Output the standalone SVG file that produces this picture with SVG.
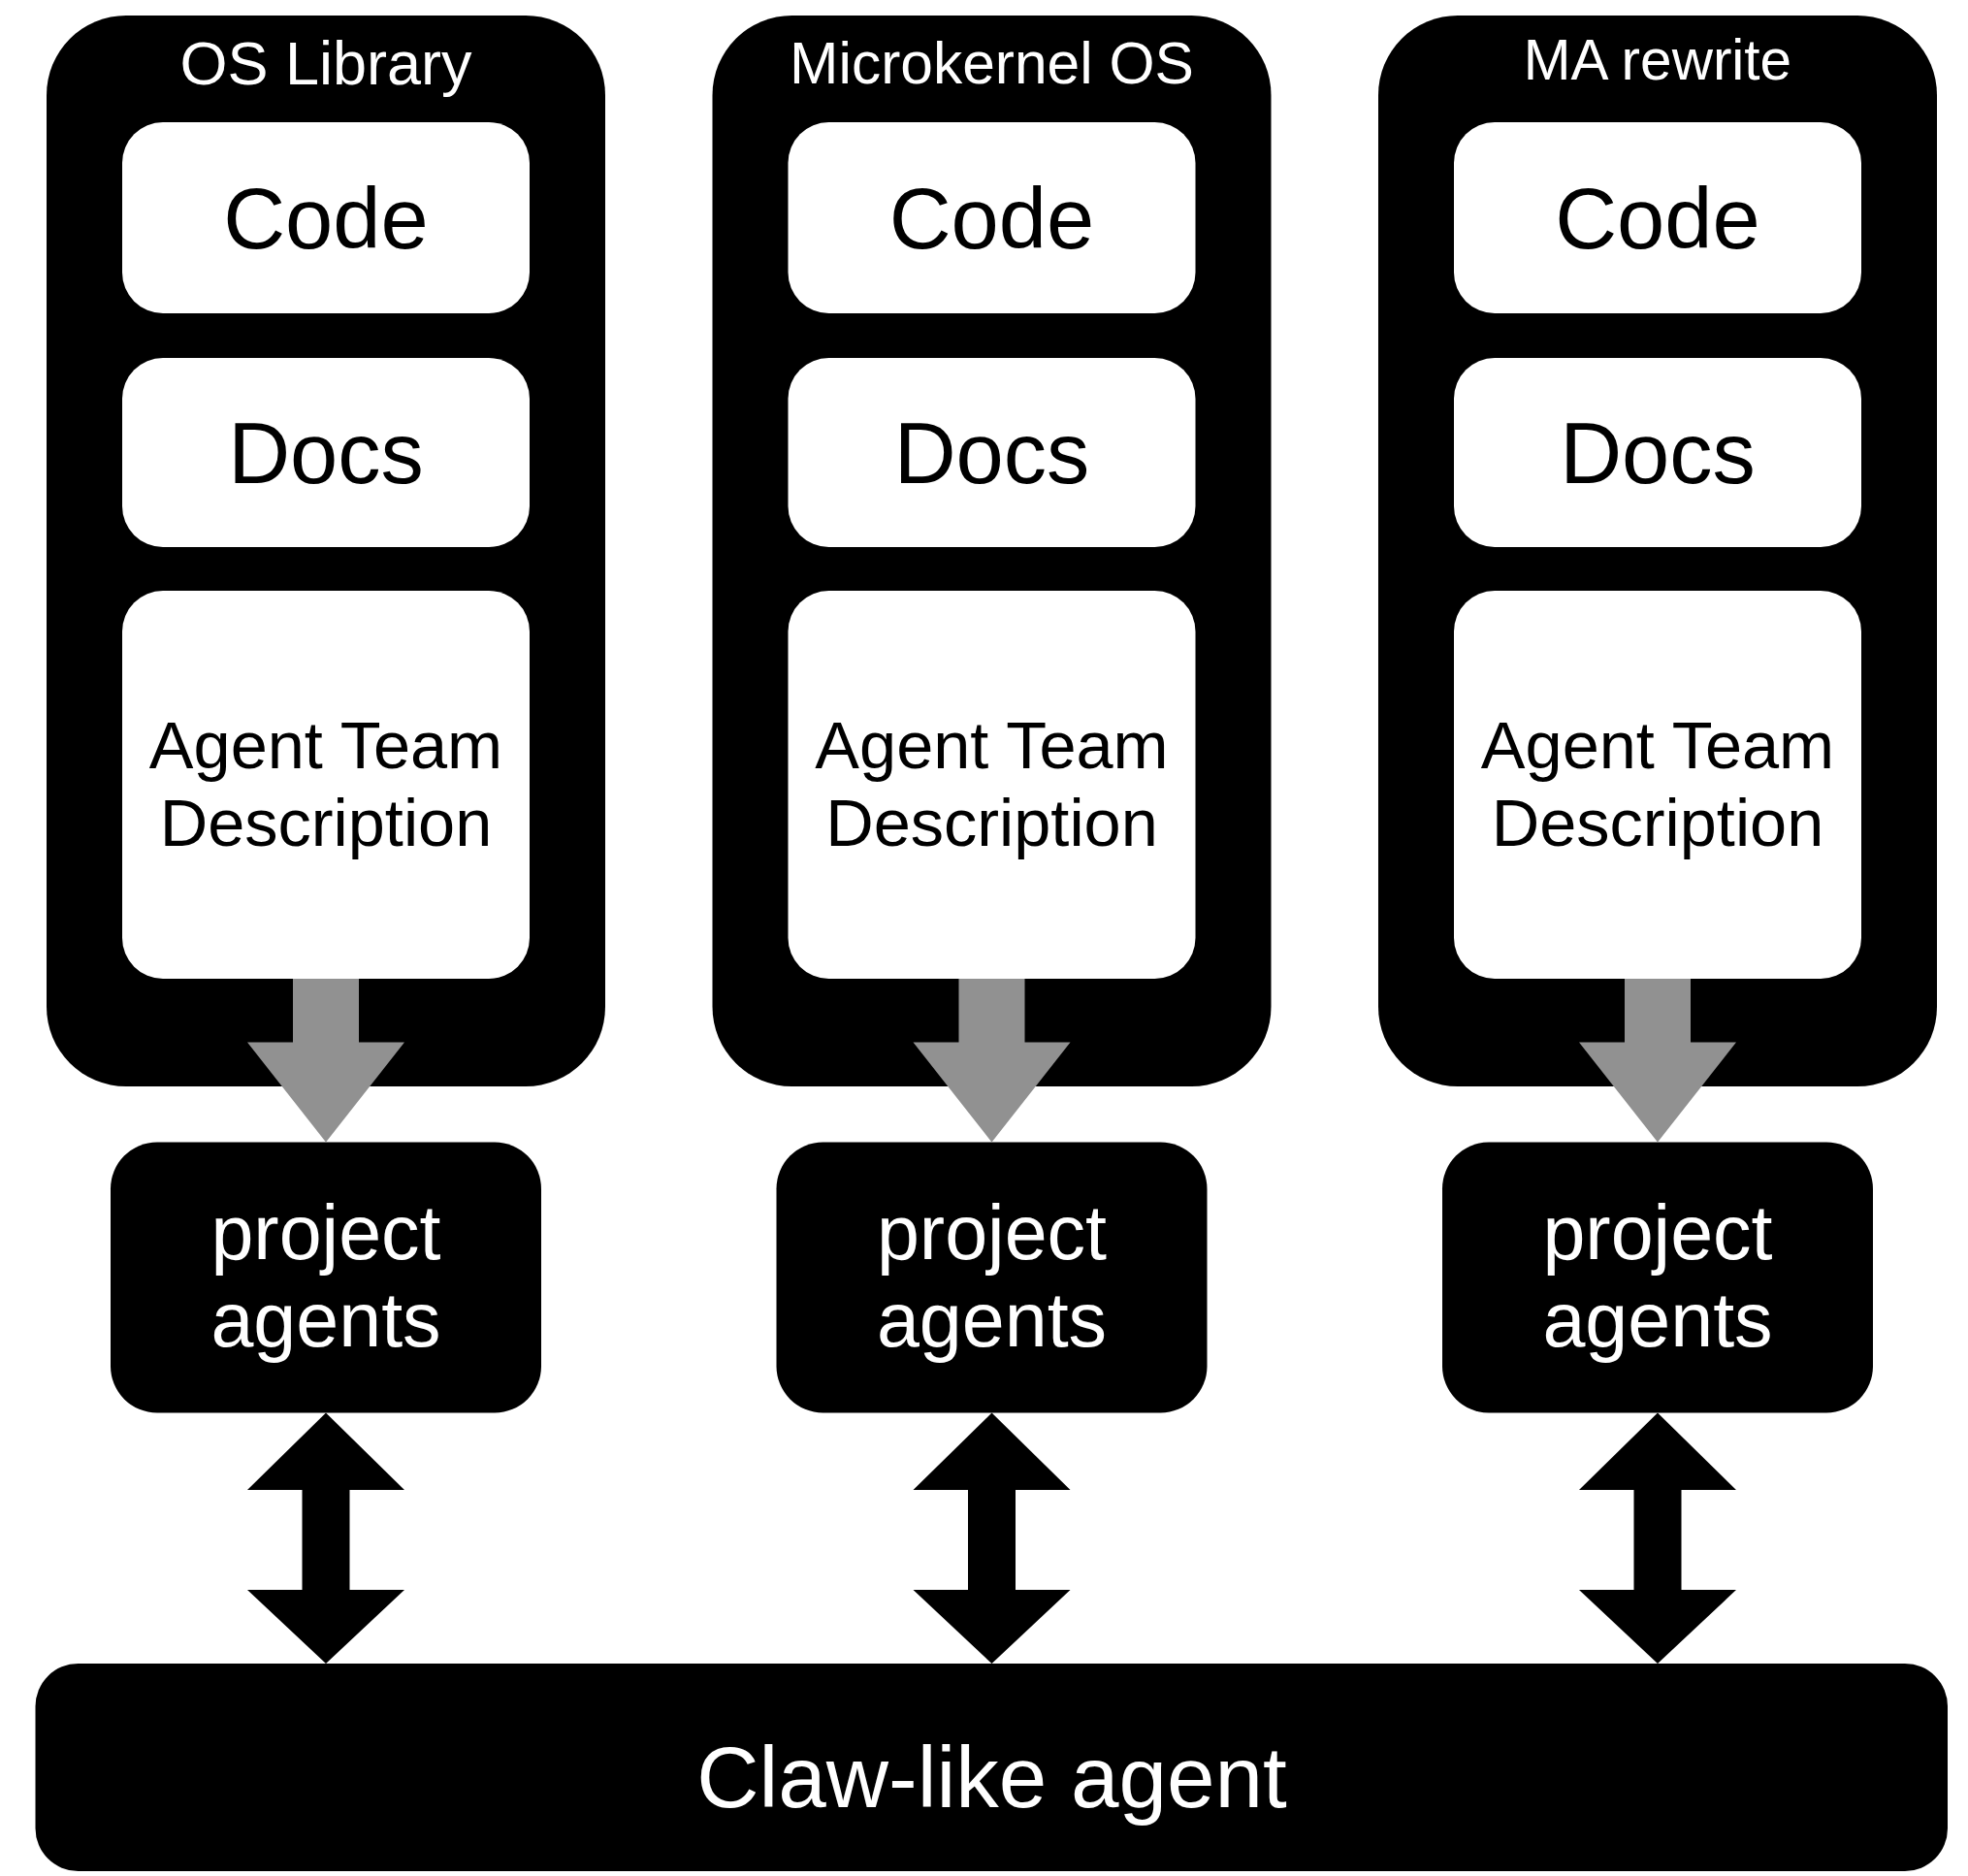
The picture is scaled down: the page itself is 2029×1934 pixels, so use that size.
<svg xmlns="http://www.w3.org/2000/svg" width="2029" height="1934" viewBox="0 0 2029 1934">
  <defs>
    <style>
      text { font-family: "Liberation Sans", Arial, Helvetica, sans-serif; text-anchor: middle; }
      .container { fill: #000; }
      .card { fill: #fff; }
      .dark { fill: #000; }
      .title { fill: #fff; }
      .label { fill: #000; font-size: 88.5px; }
      .team { fill: #000; font-size: 68.5px; }
      .agents { fill: #fff; font-size: 79px; }
      .claw { fill: #fff; font-size: 89px; }
      .flow { fill: #919191; }
      .link { fill: #000; }
    </style>
  </defs>
  <rect width="2029" height="1934" fill="#fff"/>

  <!-- Column 1: OS Library -->
  <g id="os-library">
    <rect class="container" x="48" y="16" width="576" height="1104" rx="82" ry="82"/>
    <text class="title" x="336" y="87" font-size="63">OS Library</text>
  </g>
  <g id="os-library-code">
    <rect class="card" x="126" y="126" width="420" height="197" rx="42" ry="42"/>
    <text class="label" x="336" y="256">Code</text>
  </g>
  <g id="os-library-docs">
    <rect class="card" x="126" y="369" width="420" height="195" rx="42" ry="42"/>
    <text class="label" x="336" y="498">Docs</text>
  </g>
  <g id="os-library-team">
    <rect class="card" x="126" y="609" width="420" height="400" rx="42" ry="42"/>
    <text class="team" x="336" y="792">Agent Team</text>
    <text class="team" x="336" y="872">Description</text>
  </g>
  <g id="os-library-agents">
    <rect class="dark" x="114" y="1177.5" width="444" height="279" rx="48" ry="48"/>
    <text class="agents" x="336" y="1298">project</text>
    <text class="agents" x="336" y="1388">agents</text>
  </g>

  <!-- Column 2: Microkernel OS -->
  <g id="microkernel-os">
    <rect class="container" x="734.5" y="16" width="576" height="1104" rx="82" ry="82"/>
    <text class="title" x="1022.5" y="86" font-size="60.5">Microkernel OS</text>
  </g>
  <g id="microkernel-os-code">
    <rect class="card" x="812.5" y="126" width="420" height="197" rx="42" ry="42"/>
    <text class="label" x="1022.5" y="256">Code</text>
  </g>
  <g id="microkernel-os-docs">
    <rect class="card" x="812.5" y="369" width="420" height="195" rx="42" ry="42"/>
    <text class="label" x="1022.5" y="498">Docs</text>
  </g>
  <g id="microkernel-os-team">
    <rect class="card" x="812.5" y="609" width="420" height="400" rx="42" ry="42"/>
    <text class="team" x="1022.5" y="792">Agent Team</text>
    <text class="team" x="1022.5" y="872">Description</text>
  </g>
  <g id="microkernel-os-agents">
    <rect class="dark" x="800.5" y="1177.5" width="444" height="279" rx="48" ry="48"/>
    <text class="agents" x="1022.5" y="1298">project</text>
    <text class="agents" x="1022.5" y="1388">agents</text>
  </g>

  <!-- Column 3: MA rewrite -->
  <g id="ma-rewrite">
    <rect class="container" x="1421" y="16" width="576" height="1104" rx="82" ry="82"/>
    <text class="title" x="1709" y="81.5" font-size="58.5">MA rewrite</text>
  </g>
  <g id="ma-rewrite-code">
    <rect class="card" x="1499" y="126" width="420" height="197" rx="42" ry="42"/>
    <text class="label" x="1709" y="256">Code</text>
  </g>
  <g id="ma-rewrite-docs">
    <rect class="card" x="1499" y="369" width="420" height="195" rx="42" ry="42"/>
    <text class="label" x="1709" y="498">Docs</text>
  </g>
  <g id="ma-rewrite-team">
    <rect class="card" x="1499" y="609" width="420" height="400" rx="42" ry="42"/>
    <text class="team" x="1709" y="792">Agent Team</text>
    <text class="team" x="1709" y="872">Description</text>
  </g>
  <g id="ma-rewrite-agents">
    <rect class="dark" x="1487" y="1177.5" width="444" height="279" rx="48" ry="48"/>
    <text class="agents" x="1709" y="1298">project</text>
    <text class="agents" x="1709" y="1388">agents</text>
  </g>

  <!-- Bottom: Claw-like agent -->
  <g id="claw-like-agent">
    <rect class="dark" x="36.5" y="1715" width="1971.5" height="214" rx="44" ry="44"/>
    <text class="claw" x="1022.5" y="1863">Claw-like agent</text>
  </g>

  <!-- Connectors -->
  <g id="connectors">
    <polygon class="flow" points="302,1009 370,1009 370,1074.5 417,1074.5 336,1177.5 255,1074.5 302,1074.5"/>
    <polygon class="flow" points="988.5,1009 1056.5,1009 1056.5,1074.5 1103.5,1074.5 1022.5,1177.5 941.5,1074.5 988.5,1074.5"/>
    <polygon class="flow" points="1675,1009 1743,1009 1743,1074.5 1790,1074.5 1709,1177.5 1628,1074.5 1675,1074.5"/>
    <polygon class="link" points="336,1456.5 417,1536 360.5,1536 360.5,1639 417,1639 336,1715 255,1639 311.5,1639 311.5,1536 255,1536"/>
    <polygon class="link" points="1022.5,1456.5 1103.5,1536 1047,1536 1047,1639 1103.5,1639 1022.5,1715 941.5,1639 998,1639 998,1536 941.5,1536"/>
    <polygon class="link" points="1709,1456.5 1790,1536 1733.5,1536 1733.5,1639 1790,1639 1709,1715 1628,1639 1684.5,1639 1684.5,1536 1628,1536"/>
  </g>
</svg>
